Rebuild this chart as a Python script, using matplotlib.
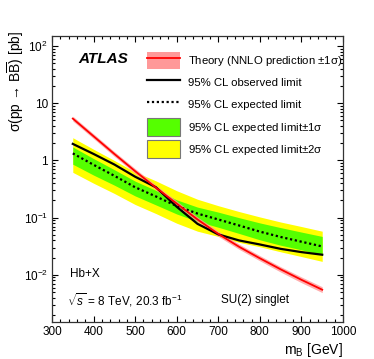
import numpy as np
import matplotlib.pyplot as plt
from matplotlib.patches import Patch
from matplotlib.lines import Line2D

plt.rcParams['font.family'] = ['Liberation Sans', 'DejaVu Sans']
plt.rcParams['mathtext.fontset'] = 'custom'
plt.rcParams['mathtext.rm'] = 'Liberation Sans'
plt.rcParams['mathtext.it'] = 'Liberation Sans:italic'

# B-quark mass points [GeV]
mass = [350, 400, 450, 500, 550, 600, 650, 700, 750, 800, 850, 900, 950]
# cross sections [pb]
theory = [5.4, 2.65, 1.3, 0.65, 0.335, 0.176, 0.093, 0.052, 0.031, 0.0195, 0.0125, 0.0082, 0.0055]
theory_dn = [4.9, 2.41, 1.18, 0.59, 0.304, 0.159, 0.084, 0.047, 0.028, 0.0176, 0.0112, 0.0073, 0.0049]
theory_up = [5.95, 2.92, 1.43, 0.72, 0.37, 0.195, 0.103, 0.058, 0.0345, 0.0217, 0.0139, 0.0092, 0.0062]
observed = [1.95, 1.3, 0.85, 0.52, 0.34, 0.155, 0.078, 0.051, 0.040, 0.034, 0.0285, 0.025, 0.0225]
expected = [1.33, 0.84, 0.54, 0.34, 0.235, 0.16, 0.118, 0.093, 0.073, 0.057, 0.046, 0.038, 0.0314]
exp_1up = [1.72, 1.08, 0.69, 0.435, 0.30, 0.205, 0.153, 0.125, 0.10, 0.081, 0.067, 0.056, 0.047]
exp_1dn = [0.86, 0.555, 0.37, 0.24, 0.167, 0.116, 0.086, 0.068, 0.053, 0.041, 0.033, 0.0274, 0.0226]
exp_2up = [2.5, 1.57, 1.0, 0.63, 0.44, 0.296, 0.21, 0.162, 0.128, 0.103, 0.084, 0.070, 0.058]
exp_2dn = [0.62, 0.40, 0.265, 0.17, 0.118, 0.08, 0.058, 0.047, 0.037, 0.031, 0.0253, 0.0209, 0.0172]

fig = plt.figure(figsize=(3.74, 3.59), dpi=100)
ax = fig.add_axes([52 / 374, 1 - 322 / 359, 291 / 374, 286 / 359])

ax.fill_between(mass, exp_2dn, exp_2up, color='#ffff00', lw=0)
ax.fill_between(mass, exp_1dn, exp_1up, color='#55ff00', lw=0)
ax.plot(mass, expected, color='black', ls=(0, (1, 1.2)), lw=1.6)
ax.plot(mass, observed, color='black', lw=1.6)
ax.fill_between(mass, theory_dn, theory_up, color='#ff9999', lw=0, alpha=0.8)
ax.plot(mass, theory, color='#ff0000', lw=1.3)

ax.set_yscale('log')
ax.set_xlim(300, 1000)
ax.set_ylim(0.0015, 150)

ax.set_xticks(np.arange(300, 1001, 100))
ax.set_xticks(np.arange(300, 1001, 20), minor=True)
ax.set_yticks([0.01, 0.1, 1, 10, 100])
ax.set_yticklabels(['10$^{-2}$', '10$^{-1}$', '1', '10', '10$^{2}$'])
ax.tick_params(which='both', direction='in', top=True, right=True, labelsize=8.5, width=0.8)
ax.tick_params(which='major', length=4.5, pad=3)
ax.tick_params(which='minor', length=2.5)
for s in ax.spines.values():
    s.set_linewidth(0.9)
    s.set_color('#333333')

ax.set_xlabel('m$_{\\mathrm{B}}$ [GeV]', fontsize=10, loc='right', labelpad=2)
ax.set_ylabel('σ(pp → B$\\overline{\\mathrm{B}}$) [pb]', fontsize=10, loc='top')
ax.yaxis.set_label_coords(-0.09, 1.02)

ax.text(0.089, 0.92, 'ATLAS', transform=ax.transAxes, fontsize=11, fontweight='bold',
        style='italic', va='center')
ax.text(0.062, 0.168, 'Hb+X', transform=ax.transAxes, fontsize=8.5, va='center')
ax.text(0.052, 0.077, '$\\sqrt{s}$ = 8 TeV, 20.3 fb$^{-1}$', transform=ax.transAxes,
        fontsize=8.5, va='center')
ax.text(0.58, 0.077, 'SU(2) singlet', transform=ax.transAxes, fontsize=8.5, va='center')

handles = [
    (Patch(facecolor='#ff9999', edgecolor='none'), Line2D([], [], color='#ff0000', lw=1.3)),
    Line2D([], [], color='black', lw=1.6),
    Line2D([], [], color='black', ls=(0, (1, 1.2)), lw=1.6),
    Patch(facecolor='#55ff00', edgecolor='#777777', lw=0.8),
    Patch(facecolor='#ffff00', edgecolor='#777777', lw=0.8),
]
labels = ['Theory (NNLO prediction $\\pm$1σ)', '95% CL observed limit', '95% CL expected limit',
          '95% CL expected limit$\\pm$1σ', '95% CL expected limit$\\pm$2σ']
ax.legend(handles, labels, loc='upper left', bbox_to_anchor=(0.326, 0.945), frameon=False,
          fontsize=8.2, handlelength=2.95, handleheight=2.0, handletextpad=0.7,
          labelspacing=0.4, borderpad=0, borderaxespad=0)

fig.savefig('out.png', dpi=100)
